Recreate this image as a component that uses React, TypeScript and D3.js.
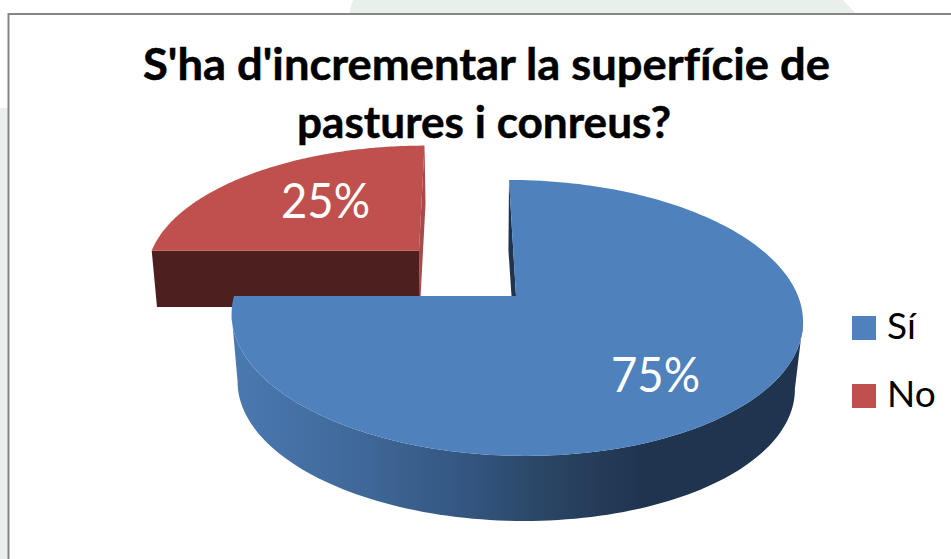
import React from "react";
import * as d3 from "d3";

const categories = ["Sí", "No"];
const values = [75, 25];
const titleLines = ["S'ha d'incrementar la superfície de", "pastures i conreus?"];
const topColors = ["#4f81bd", "#c0504d"];

const W = 951, H = 559;
const K = 0.159; // perspective strength

type Face = { x: number; y: number; rx: number; ry: number; skew: number };

// Projects a point of the unit disc (angle clockwise from the far side) to the screen
const project = (f: Face, a: number, r = 1): [number, number] => {
  const u = Math.sin(a) * r, v = -Math.cos(a) * r;
  const d = 1 - K * v;
  return [f.x + (f.rx * u + f.skew * v) / d, f.y + (f.ry * v) / d];
};

const faces: { top: Face; bottom: Face }[] = [
  {
    top: { x: 516, y: 296, rx: 282, ry: 134.5, skew: 8.1 },
    bottom: { x: 515, y: 364, rx: 275, ry: 132, skew: 7.6 },
  },
  {
    top: { x: 419, y: 250.7, rx: 267.3, ry: 121.8, skew: -6.4 },
    bottom: { x: 420, y: 307, rx: 263, ry: 119.8, skew: -6.4 },
  },
];

const line = d3.line<[number, number]>().x((d) => d[0]).y((d) => d[1]).curve(d3.curveLinear);

const arcPts = (f: Face, a0: number, a1: number) =>
  d3.range(0, 181).map((i) => project(f, a0 + ((a1 - a0) * i) / 180));

const pie = d3.pie<number>().sort(null).startAngle(0).endAngle(2 * Math.PI);
const slices = pie(values);

const facePath = (f: Face, a0: number, a1: number) =>
  line([[f.x, f.y], ...arcPts(f, a0, a1)])! + "Z";

// outer wall: the part of the rim between the right-most and left-most points
const outerWall = (s: { top: Face; bottom: Face }, a0: number, a1: number) => {
  const pts = arcPts(s.top, a0, a1);
  const iMax = pts.indexOf(pts.reduce((m, p) => (p[0] > m[0] ? p : m)));
  const iMin = pts.indexOf(pts.reduce((m, p) => (p[0] < m[0] ? p : m)));
  const bot = arcPts(s.bottom, a0, a1);
  const bMax = bot.indexOf(bot.reduce((m, p) => (p[0] > m[0] ? p : m)));
  const bMin = bot.indexOf(bot.reduce((m, p) => (p[0] < m[0] ? p : m)));
  return line([...pts.slice(iMax, iMin + 1), ...bot.slice(bMax, bMin + 1).reverse()])! + "Z";
};

const poly = (pts: [number, number][]) => line(pts)! + "Z";

const FONT = "Lato, Carlito, Calibri, sans-serif";
const noLig = { fontVariantLigatures: "none" as const };

export default function App() {
  const blue = slices[0], red = slices[1];
  const bf = faces[0], rf = faces[1];
  return (
    <svg
      width={W}
      height={H}
      viewBox={`0 0 ${W} ${H}`}
      style={{ position: "absolute", left: 0, top: 0, background: "#fff" }}
    >
      <defs>
        <linearGradient id="sideBlue" gradientUnits="userSpaceOnUse" x1={232} x2={803} y1={0} y2={0}>
          <stop offset="0" stopColor="#4a79b1" />
          <stop offset="0.2" stopColor="#416a9c" />
          <stop offset="0.4" stopColor="#345782" />
          <stop offset="0.55" stopColor="#2a4564" />
          <stop offset="0.72" stopColor="#20344f" />
          <stop offset="1" stopColor="#1f344e" />
        </linearGradient>
      </defs>

      {/* page backdrop */}
      <path d="M353 0 L349 14 L856 14 L843 0 Z" fill="#e9efea" />
      <rect x={0} y={108} width={8} height={451} fill="#e9efed" />

      {/* chart frame */}
      <path d="M951 14 H8.5 V559" fill="#fff" stroke="#868686" strokeWidth={2} />

      {/* title */}
      <text
        x={486.5}
        y={80}
        textAnchor="middle"
        fontFamily={FONT}
        fontWeight={700}
        fontSize={44}
        textLength={687}
        lengthAdjust="spacingAndGlyphs"
        fill="#000"
        stroke="#000"
        strokeWidth={0.5}
        style={noLig}
      >
        {titleLines[0]}
      </text>
      <text
        x={484}
        y={138}
        textAnchor="middle"
        fontFamily={FONT}
        fontWeight={700}
        fontSize={44}
        textLength={374}
        lengthAdjust="spacingAndGlyphs"
        fill="#000"
        stroke="#000"
        strokeWidth={0.5}
        style={noLig}
      >
        {titleLines[1]}
      </text>

      {/* red slice: walls, then top */}
      <path
        d={poly([
          project(rf.top, red.endAngle),
          project(rf.bottom, red.endAngle),
          [rf.bottom.x, rf.bottom.y],
          [rf.top.x, rf.top.y],
        ])}
        fill="#a64b49"
      />
      <path
        d={poly([
          project(rf.top, red.startAngle),
          [rf.top.x, rf.top.y],
          [rf.bottom.x, rf.bottom.y],
          project(rf.bottom, red.startAngle),
        ])}
        fill="#4d1f1e"
      />
      <path d={facePath(rf.top, red.startAngle, red.endAngle)} fill={topColors[1]} />

      {/* blue slice: walls, then top */}
      <path
        d={poly([
          project(bf.top, blue.startAngle),
          project(bf.bottom, blue.startAngle),
          [bf.bottom.x + 1, bf.bottom.y],
          [bf.top.x, bf.top.y],
        ])}
        fill="#1f344f"
      />
      <path d={outerWall(bf, blue.startAngle, blue.endAngle)} fill="url(#sideBlue)" />
      <path d={facePath(bf.top, blue.startAngle, blue.endAngle)} fill={topColors[0]} />

      {/* data labels */}
      <text x={325.5} y={218} textAnchor="middle" fontFamily={FONT} fontSize={48} textLength={89} lengthAdjust="spacingAndGlyphs" fill="#fff">
        {values[1]}%
      </text>
      <text x={655.5} y={392} textAnchor="middle" fontFamily={FONT} fontSize={48} textLength={89} lengthAdjust="spacingAndGlyphs" fill="#fff">
        {values[0]}%
      </text>

      {/* legend */}
      {categories.map((c, i) => (
        <g key={c} transform={`translate(852,${316 + i * 68})`}>
          <rect width={24} height={24} fill={topColors[i]} />
          <text x={35} y={23} fontFamily={FONT} fontSize={37} fill="#000">
            {c}
          </text>
        </g>
      ))}
    </svg>
  );
}
